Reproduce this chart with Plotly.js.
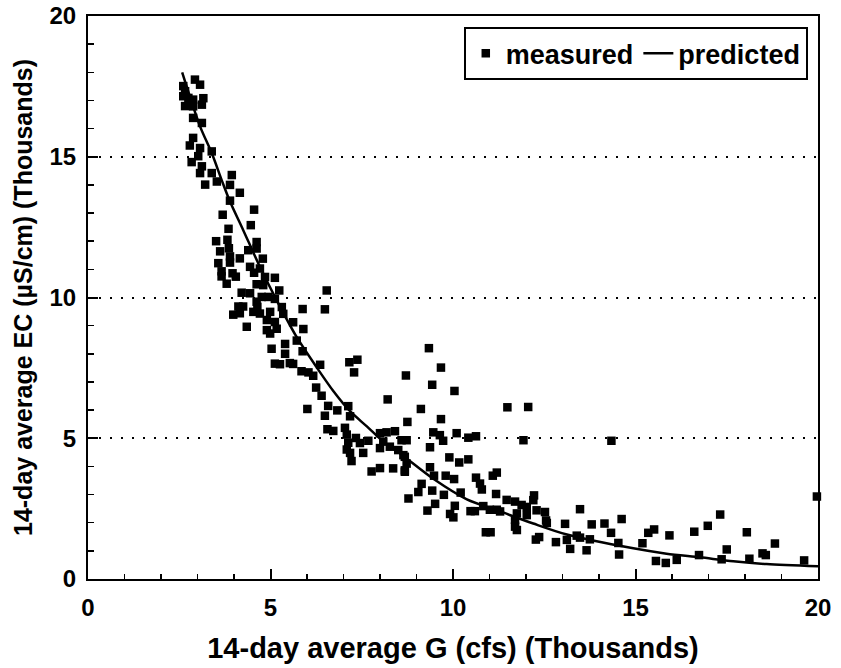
<!DOCTYPE html>
<html>
<head>
<meta charset="utf-8">
<script src="https://cdn.plot.ly/plotly-3.0.1.min.js"></script>
<style>html,body{margin:0;padding:0;background:#fff;}#chart{width:841px;height:668px;}</style>
</head>
<body>
<div id="chart"></div>
<script>
// measured points: 14-day average G (thousands cfs) vs EC (thousands uS/cm)
const measuredG = [
  2.93,3.07,2.61,2.66,2.61,2.75,2.88,3.16,2.66,3.12,2.88,2.88,3.12,2.88,2.79,3.07,3.39,3.02,2.84,3.12,3.07,3.39,3.94,3.21,3.53,3.89,4.16,3.89,
  4.55,3.69,4.46,3.85,3.51,3.82,4.62,3.62,3.86,4.39,4.62,3.89,4.16,3.57,3.89,4.79,4.44,4.71,3.66,3.96,4.55,4.85,5.12,3.66,4.05,3.80,4.62,4.80,5.24,4.21,4.44,4.76,4.94,5.12,4.62,4.12,4.25,4.64,5.31,3.98,4.16,4.53,4.71,4.99,5.35,4.90,5.12,5.62,4.35,4.90,5.17,5.40,5.72,4.99,
  6.54,6.49,5.88,5.90,5.03,5.40,5.88,5.12,5.26,5.53,5.62,6.36,7.16,7.38,7.29,5.85,6.04,6.17,8.71,6.25,6.40,8.21,6.01,6.58,6.83,6.49,7.13,7.18,8.75,6.56,6.72,7.04,7.09,7.34,7.45,7.68,7.13,7.09,7.18,7.54,7.22,8.00,8.18,8.41,8.09,8.00,8.27,8.50,8.59,8.73,8.64,7.77,8.00,8.36,8.68,8.73,
  9.34,9.67,9.43,10.04,9.12,11.49,12.06,9.67,9.46,9.64,10.10,9.73,10.42,10.63,11.93,9.37,9.90,10.17,10.42,8.68,8.68,9.37,9.48,9.80,10.03,10.63,10.74,11.09,11.20,9.14,9.05,9.43,9.75,10.21,10.79,11.18,8.78,9.51,10.05,10.83,11.01,11.29,11.47,11.70,11.88,12.02,12.22,12.20,12.29,12.52,9.30,9.92,10.01,10.48,10.60,11.20,11.75,12.02,11.70,11.70,11.75,12.55,12.57,13.07,10.90,11.03,12.27,12.36,12.82,13.12,13.21,13.39,13.48,
  13.80,14.15,14.33,14.62,14.53,14.55,13.66,13.75,13.48,15.19,15.35,15.51,15.93,15.56,15.83,16.13,16.61,16.74,16.98,17.32,17.50,17.36,18.05,18.12,18.48,18.57,18.82,19.62,19.97,14.34
];
const measuredEC = [
  17.74,17.56,17.51,17.33,17.15,17.09,17.03,17.08,16.80,16.85,16.79,16.38,16.20,15.67,15.40,15.31,15.19,15.02,14.81,14.66,14.42,14.42,14.35,14.01,14.12,14.00,13.72,13.44,
  13.12,12.94,12.57,12.44,12.00,12.05,11.97,11.64,11.75,11.68,11.74,11.46,11.39,11.22,11.24,11.38,11.09,11.03,10.93,10.86,10.88,10.73,10.70,10.75,10.74,10.49,10.47,10.44,10.25,10.17,10.15,10.02,10.02,9.95,9.85,9.68,9.68,9.67,9.66,9.39,9.44,9.49,9.43,9.49,9.42,9.20,9.13,9.12,8.96,8.84,8.89,8.35,8.47,8.72,
  10.25,9.58,9.59,8.88,8.18,8.00,8.09,7.65,7.63,7.67,7.64,7.61,7.70,7.79,7.34,7.38,7.34,7.22,7.23,6.80,6.51,6.38,6.04,6.15,5.99,5.80,6.14,5.78,5.58,5.32,5.26,5.37,5.13,5.01,4.83,4.91,4.84,4.60,4.48,4.48,4.19,5.18,5.21,5.25,4.88,4.65,4.70,4.58,4.93,4.93,4.40,3.82,3.94,3.93,3.86,4.10,
  8.20,7.51,6.90,6.68,6.04,6.10,6.11,5.68,5.21,5.11,5.18,4.91,5.02,5.07,4.93,4.68,4.32,4.14,4.25,4.34,3.81,3.97,3.67,3.67,3.55,3.60,3.39,3.67,3.78,3.38,3.09,3.14,2.99,3.07,3.18,3.02,2.86,2.67,2.60,2.59,2.46,2.40,2.81,2.75,2.63,2.56,2.97,2.80,2.44,2.38,2.43,2.31,2.19,2.41,2.41,2.46,2.33,2.27,2.10,1.86,1.74,2.08,1.99,1.96,1.66,1.66,1.40,1.49,1.31,1.39,1.07,1.54,2.48,
  1.94,1.97,1.64,2.13,1.28,0.87,1.02,1.41,1.47,1.27,1.64,1.76,1.55,0.64,0.57,0.68,1.68,0.85,1.89,2.29,1.05,0.70,1.66,0.72,0.91,0.85,1.26,0.66,2.93,4.91
];
// predicted curve
const predictedG  = [2.58,3.07,3.39,3.66,3.89,4.25,4.71,5.17,5.72,6.27,6.72,7.18,7.64,8.09,8.55,9.46,10.38,11.29,12.20,13.12,14.94,15.85,16.77,17.68,18.59,20.0];
const predictedEC = [18.0,16.08,15.13,14.18,13.41,12.40,11.09,9.90,8.59,7.51,6.68,5.96,5.42,4.88,4.46,3.56,2.83,2.40,1.97,1.58,1.09,0.90,0.77,0.63,0.53,0.45];

const tickVals = [0,5,10,15,20];
const tickText = ['0','5','10','15','20'];

const FONT = 'Liberation Sans, Arial, Helvetica, sans-serif';

const traces = [
  {
    x: measuredG, y: measuredEC, type: 'scatter', mode: 'markers', name: 'measured',
    marker: {symbol: 'square', size: 8.5, color: '#000'}, cliponaxis: false
  },
  {
    x: predictedG, y: predictedEC, type: 'scatter', mode: 'lines', name: 'predicted',
    line: {color: '#000', width: 2.5, shape: 'spline', smoothing: 0.8}
  }
];

const layout = {
  width: 841, height: 668,
  margin: {l: 88, r: 23, t: 16, b: 89},
  paper_bgcolor: '#fff', plot_bgcolor: '#fff',
  font: {family: FONT, color: '#000'},
  showlegend: true,
  legend: {
    orientation: 'h', x: 0.986, xanchor: 'right', y: 0.98, yanchor: 'top',
    bordercolor: '#000', borderwidth: 2, bgcolor: '#fff',
    font: {family: FONT, size: 27, weight: 'bold', color: '#000'},
    itemwidth: 30
  },
  xaxis: {
    range: [0, 20], tickvals: tickVals, ticktext: tickText,
    ticks: 'inside', ticklen: 10, tickwidth: 2, tickcolor: '#000',
    showline: true, linewidth: 2, linecolor: '#000', mirror: true,
    showgrid: false, zeroline: false,
    minor: {dtick: 1, ticks: 'inside', ticklen: 5, tickwidth: 1.5, tickcolor: '#000', showgrid: false},
    tickfont: {family: FONT, size: 24, weight: 'bold', color: '#000'},
    ticklabelstandoff: 6,
    title: {text: '14-day average G (cfs) (Thousands)', font: {family: FONT, size: 29, weight: 'bold', color: '#000'}, standoff: 18}
  },
  yaxis: {
    range: [0, 20], tickvals: tickVals, ticktext: tickText,
    ticks: 'inside', ticklen: 10, tickwidth: 2, tickcolor: '#000',
    showline: true, linewidth: 2, linecolor: '#000', mirror: true,
    showgrid: true, gridcolor: '#000', gridwidth: 2, griddash: '2px,9px',
    zeroline: false,
    minor: {dtick: 1, ticks: 'inside', ticklen: 6, tickwidth: 1.5, tickcolor: '#000', showgrid: false},
    tickfont: {family: FONT, size: 24, weight: 'bold', color: '#000'},
    ticklabelstandoff: 5,
    title: {text: '14-day average EC (µS/cm) (Thousands)', font: {family: FONT, size: 25, weight: 'bold', color: '#000'}, standoff: 10}
  }
};

Plotly.newPlot('chart', traces, layout, {staticPlot: true, displayModeBar: false});
</script>
</body>
</html>
